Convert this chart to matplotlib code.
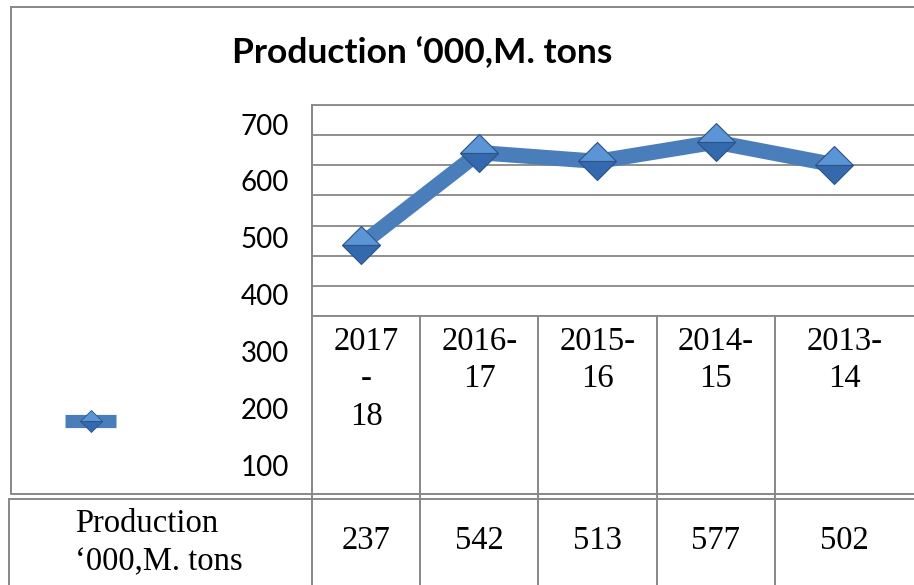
import matplotlib
matplotlib.use("Agg")
import matplotlib.pyplot as plt
from matplotlib.transforms import Affine2D, blended_transform_factory
from matplotlib.lines import Line2D

# ---- data ----
categories = ["2017\n-\n18", "2016-\n17", "2015-\n16", "2014-\n15", "2013-\n14"]
values = [237, 542, 513, 577, 502]
value_labels = ["237", "542", "513", "577", "502"]
series_name = "Production\n\u2018000,M. tons"
title = "Production \u2018000,M. tons"
ytick_values = [100, 200, 300, 400, 500, 600, 700]
grid_values = [0, 100, 200, 300, 400, 500, 600, 700]

W, H = 914, 585
fig = plt.figure(figsize=(W / 100, H / 100), dpi=100)
px = Affine2D().scale(1 / W, -1 / H).translate(0, 1) + fig.transFigure

GRID = "#878787"
LINE = "#4A7EBB"
FACE_TOP = "#5C95D6"
FACE_BOT = "#3569AE"
EDGE = "#2A5386"
SERIF = "Liberation Serif"
SERIF_SIZE = 23.5

# main plot axes
ax = fig.add_axes([312 / W, 1 - 316 / H, (W - 312) / W, (316 - 105) / H])
x = list(range(len(values)))
ax.set_xlim(-0.414, 4.677)
ax.set_ylim(0, 700)
ax.set_yticks(grid_values)
ax.set_xticks([])
ax.tick_params(axis="y", length=0, labelleft=False)
ax.grid(axis="y", color=GRID, lw=1.3)
ax.set_axisbelow(True)
for s in ["left", "top", "bottom"]:
    ax.spines[s].set_color(GRID)
    ax.spines[s].set_linewidth(1.3)
ax.spines["right"].set_visible(False)
ax.patch.set_alpha(0)

ax.plot(x, values, color=LINE, lw=11, solid_joinstyle="round", zorder=3,
        clip_on=False)
ax.plot(x, values, ls="none", marker="D", ms=19.5, fillstyle="top",
        markerfacecolor=FACE_TOP, markerfacecoloralt=FACE_BOT,
        markeredgecolor=EDGE, markeredgewidth=0.8, zorder=4, clip_on=False)

# y labels (as they appear, offset from gridlines)
ax2 = fig.add_axes([312 / W, 1 - 494 / H, 0.001, (494 - 105) / H])
ax2.set_ylim(50.3, 733.4)
ax2.set_yticks(ytick_values)
ax2.set_yticklabels([str(v) for v in ytick_values], family="Lato", fontsize=20)
ax2.tick_params(axis="y", length=0, pad=16.5)
ax2.set_xticks([])
for s in ax2.spines.values():
    s.set_visible(False)
ax2.patch.set_alpha(0)

# title
fig.text(422.5 / W, 1 - 63 / H, title, family="Lato", weight="bold",
         fontsize=25.5, ha="center", va="baseline")

# structure lines
def pline(xs, ys, transform=px, **kw):
    fig.add_artist(Line2D(xs, ys, transform=transform, color=GRID, lw=1.4,
                          clip_on=False, **kw))

# outer chart border
pline([11, 11, W + 5, W + 5, 11], [7, 494, 494, 7, 7])
# table top and left
pline([9, W + 5], [499, 499])
pline([9, 9], [499, H + 5])
# left axis line extended
pline([312, 312], [105, H + 5])

tr = blended_transform_factory(ax.transData, px)
bounds = [i + 0.5 for i in range(len(values) - 1)]
for b in bounds:
    pline([b, b], [316, H + 5], transform=tr)

# column centers
xl, xr = ax.get_xlim()
edges = [xl] + bounds + [xr]
centers = [(edges[i] + edges[i + 1]) / 2 for i in range(len(values))]

for c, lab in zip(centers, categories):
    fig.text(c, 326, lab, transform=tr, family=SERIF, fontsize=SERIF_SIZE,
             ha="center", va="top", linespacing=1.3)
for c, v in zip(centers, value_labels):
    fig.text(c, 549, v, transform=tr, family=SERIF, fontsize=SERIF_SIZE,
             ha="center", va="baseline")
fig.text(75 / W, 1 - 509 / H, series_name, family=SERIF, fontsize=SERIF_SIZE,
         ha="left", va="top", linespacing=1.3)

# legend key
fig.add_artist(Line2D([65, 116], [421, 421], transform=px, color=LINE,
                      lw=9.5, solid_capstyle="butt"))
fig.add_artist(Line2D([90.5], [421], transform=px, ls="none", marker="D",
                      ms=11.2, fillstyle="top", markerfacecolor=FACE_TOP,
                      markerfacecoloralt=FACE_BOT, markeredgecolor=EDGE,
                      markeredgewidth=0.6))

fig.savefig("out.png", dpi=100)
